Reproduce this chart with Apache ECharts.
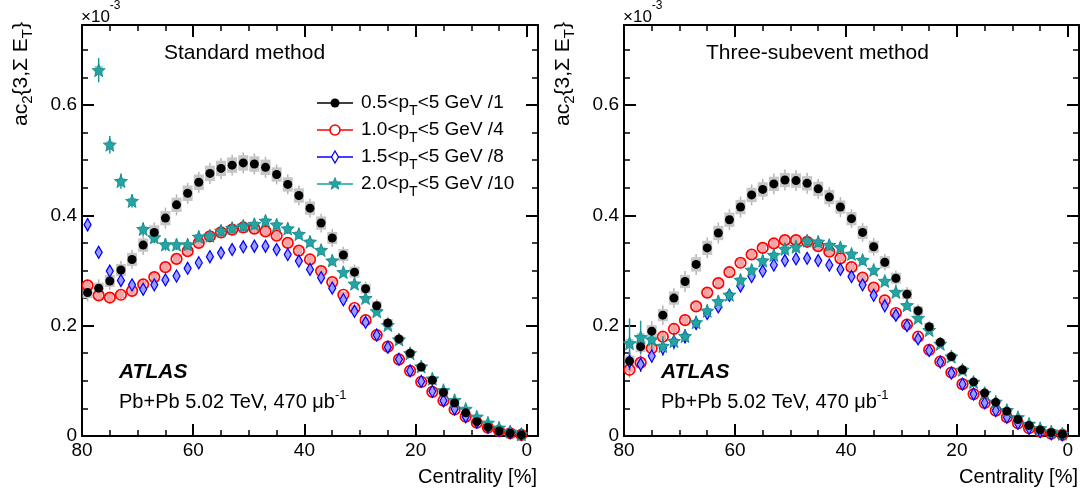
<!DOCTYPE html>
<html><head><meta charset="utf-8">
<script src="https://cdn.jsdelivr.net/npm/echarts@6/dist/echarts.min.js"></script>
<style>html,body{margin:0;padding:0;background:#fff}#c{width:1083px;height:495px}</style>
</head><body><div id="c"></div>
<script>
// ---------- data (values in units of 1e-3) ----------
const centrality = [79,77,75,73,71,69,67,65,63,61,59,57,55,53,51,49,47,45,43,41,39,37,35,33,31,29,27,25,23,21,19,17,15,13,11,9,7,5,3,1];
const xMajorTicks = [0,20,40,60,80];
const xMinorTicks = [5,10,15,25,30,35,45,50,55,65,70,75];
const yMajorTicks = [0,0.2,0.4,0.6];
const yMinorTicks = [0.05,0.1,0.15,0.25,0.3,0.35,0.45,0.5,0.55,0.65,0.7];
const panelTitles = ['Standard method','Three-subevent method'];
const legendRanges = ['0.5','1.0','1.5','2.0'];
const legendScales = ['1','4','8','10'];

// Standard method
const std_pt05 = [0.260,0.268,0.281,0.301,0.320,0.346,0.369,0.395,0.419,0.440,0.460,0.476,0.485,0.491,0.495,0.493,0.487,0.474,0.456,0.436,0.413,0.386,0.359,0.328,0.297,0.267,0.236,0.205,0.176,0.150,0.125,0.101,0.079,0.060,0.042,0.026,0.016,0.009,0.005,0.002];
const std_pt10 = [0.273,0.255,0.251,0.256,0.263,0.275,0.288,0.306,0.321,0.335,0.350,0.362,0.369,0.374,0.378,0.376,0.371,0.363,0.350,0.336,0.320,0.299,0.279,0.256,0.232,0.210,0.183,0.162,0.139,0.118,0.098,0.080,0.064,0.048,0.035,0.024,0.015,0.009,0.005,0.002];
const std_pt15 = [0.383,0.333,0.299,0.282,0.274,0.266,0.274,0.283,0.290,0.304,0.314,0.325,0.332,0.338,0.343,0.344,0.344,0.338,0.329,0.317,0.302,0.287,0.268,0.247,0.226,0.206,0.183,0.161,0.139,0.118,0.099,0.081,0.064,0.049,0.035,0.025,0.016,0.010,0.006,0.003];
const std_pt20 = [null,0.663,0.528,0.462,0.426,0.375,0.360,0.347,0.347,0.347,0.361,0.363,0.372,0.377,0.381,0.384,0.390,0.383,0.376,0.366,0.352,0.337,0.318,0.297,0.276,0.250,0.226,0.201,0.175,0.150,0.126,0.104,0.083,0.065,0.049,0.035,0.024,0.015,0.008,0.003];
// Three-subevent method
const sub_pt05 = [0.136,0.162,0.190,0.219,0.250,0.280,0.311,0.341,0.368,0.392,0.415,0.437,0.447,0.457,0.464,0.463,0.458,0.448,0.433,0.415,0.394,0.369,0.343,0.315,0.286,0.257,0.227,0.198,0.170,0.144,0.120,0.098,0.078,0.061,0.045,0.030,0.019,0.011,0.006,0.003];
const sub_pt10 = [0.120,0.133,0.159,0.180,0.194,0.210,0.235,0.260,0.277,0.297,0.314,0.329,0.341,0.349,0.355,0.355,0.352,0.344,0.334,0.322,0.306,0.287,0.269,0.246,0.223,0.202,0.180,0.156,0.135,0.115,0.094,0.076,0.060,0.046,0.034,0.023,0.014,0.008,0.004,0.002];
const sub_pt15 = [0.135,0.130,0.145,0.159,0.171,0.180,0.204,0.222,0.234,0.255,0.272,0.289,0.299,0.310,0.318,0.321,0.322,0.318,0.310,0.302,0.289,0.274,0.255,0.236,0.219,0.200,0.176,0.155,0.134,0.114,0.094,0.076,0.060,0.046,0.034,0.023,0.014,0.008,0.004,0.002];
const sub_pt20 = [0.168,0.179,0.175,0.163,0.172,0.181,0.206,0.227,0.244,0.256,0.283,0.301,0.318,0.328,0.339,0.343,0.354,0.352,0.346,0.342,0.330,0.319,0.301,0.281,0.261,0.237,0.214,0.192,0.167,0.144,0.120,0.098,0.078,0.062,0.047,0.034,0.022,0.014,0.008,0.004];

// statistical (bar) and systematic (box) half-widths
const std_pt05_stat = [0.016,0.016,0.016,0.016,0.017,0.018,0.018,0.019,0.019,0.019,0.019,0.019,0.019,0.019,0.019,0.019,0.019,0.018,0.018,0.018,0.017,0.017,0.016,0.015,0.014,0.013,0.012,0.011,0.010,0.009,0.008,0.007,0.006,0.005,0.004,0.004,0.003,0.002,0.002,0.001];
const std_pt05_syst = [0.010,0.010,0.011,0.011,0.012,0.012,0.013,0.013,0.013,0.014,0.014,0.014,0.014,0.014,0.014,0.014,0.014,0.013,0.013,0.013,0.012,0.012,0.011,0.011,0.010,0.009,0.008,0.007,0.006,0.006,0.005,0.004,0.004,0.003,0.003,0.002,0.002,0.001,0.001,0.001];
const std_pt10_stat = [0.010,0.009,0.008,0.008,0.008,0.008,0.008,0.008,0.008,0.008,0.008,0.008,0.008,0.008,0.008,0.008,0.008,0.008,0.008,0.007,0.007,0.007,0.007,0.006,0.006,0.006,0.005,0.005,0.005,0.004,0.004,0.004,0.003,0.003,0.003,0.002,0.002,0.002,0.001,0.001];
const std_pt10_syst = [0.006,0.007,0.007,0.006,0.006,0.006,0.007,0.007,0.007,0.007,0.007,0.007,0.007,0.007,0.007,0.007,0.007,0.007,0.007,0.007,0.006,0.006,0.006,0.005,0.005,0.005,0.004,0.004,0.004,0.003,0.003,0.003,0.002,0.002,0.002,0.002,0.001,0.001,0.001,0.001];
const std_pt15_stat = [0.012,0.010,0.009,0.008,0.008,0.008,0.008,0.008,0.008,0.008,0.008,0.008,0.008,0.008,0.008,0.008,0.008,0.008,0.008,0.008,0.008,0.007,0.007,0.007,0.006,0.006,0.006,0.005,0.005,0.005,0.004,0.004,0.004,0.003,0.003,0.003,0.002,0.002,0.002,0.001];
const std_pt15_syst = [0.004,0.004,0.004,0.004,0.004,0.004,0.004,0.004,0.004,0.004,0.004,0.004,0.004,0.004,0.004,0.004,0.004,0.004,0.004,0.004,0.004,0.004,0.004,0.003,0.003,0.003,0.003,0.003,0.003,0.002,0.002,0.002,0.002,0.002,0.002,0.001,0.001,0.001,0.001,0.001];
const std_pt20_stat = [0,0.022,0.016,0.014,0.012,0.012,0.011,0.011,0.010,0.010,0.010,0.010,0.010,0.010,0.010,0.010,0.010,0.010,0.010,0.009,0.009,0.009,0.009,0.008,0.008,0.008,0.007,0.007,0.006,0.006,0.005,0.005,0.004,0.004,0.003,0.003,0.003,0.002,0.002,0.001];
const std_pt20_syst = [0,0.008,0.006,0.005,0.005,0.005,0.005,0.005,0.005,0.005,0.005,0.005,0.005,0.005,0.005,0.005,0.005,0.005,0.005,0.005,0.005,0.005,0.004,0.004,0.004,0.004,0.004,0.003,0.003,0.003,0.003,0.002,0.002,0.002,0.002,0.001,0.001,0.001,0.001,0.001];
const sub_pt05_stat = [0.020,0.019,0.018,0.018,0.018,0.019,0.019,0.019,0.019,0.019,0.019,0.019,0.019,0.019,0.019,0.019,0.019,0.018,0.018,0.018,0.017,0.017,0.016,0.015,0.014,0.013,0.012,0.011,0.010,0.009,0.008,0.007,0.006,0.005,0.004,0.004,0.003,0.002,0.002,0.001];
const sub_pt05_syst = [0.010,0.010,0.011,0.011,0.012,0.012,0.013,0.013,0.013,0.013,0.013,0.013,0.013,0.013,0.013,0.013,0.013,0.013,0.013,0.012,0.012,0.012,0.011,0.011,0.010,0.009,0.008,0.007,0.006,0.006,0.005,0.004,0.004,0.003,0.003,0.002,0.002,0.001,0.001,0.001];
const sub_pt10_stat = [0.014,0.012,0.011,0.010,0.009,0.009,0.009,0.009,0.009,0.009,0.009,0.009,0.009,0.009,0.009,0.009,0.009,0.008,0.008,0.008,0.008,0.007,0.007,0.007,0.006,0.006,0.006,0.005,0.005,0.004,0.004,0.004,0.003,0.003,0.003,0.002,0.002,0.002,0.001,0.001];
const sub_pt10_syst = [0.005,0.006,0.006,0.006,0.006,0.006,0.007,0.007,0.007,0.007,0.007,0.007,0.007,0.007,0.007,0.007,0.007,0.007,0.007,0.006,0.006,0.006,0.006,0.005,0.005,0.005,0.004,0.004,0.004,0.003,0.003,0.003,0.002,0.002,0.002,0.002,0.001,0.001,0.001,0.001];
const sub_pt15_stat = [0.016,0.014,0.012,0.011,0.010,0.010,0.009,0.009,0.009,0.009,0.009,0.009,0.009,0.009,0.009,0.009,0.009,0.008,0.008,0.008,0.008,0.007,0.007,0.007,0.006,0.006,0.006,0.005,0.005,0.005,0.004,0.004,0.004,0.003,0.003,0.003,0.002,0.002,0.002,0.001];
const sub_pt15_syst = [0.004,0.004,0.004,0.004,0.004,0.004,0.004,0.004,0.004,0.004,0.004,0.004,0.004,0.004,0.004,0.004,0.004,0.004,0.004,0.004,0.004,0.004,0.004,0.003,0.003,0.003,0.003,0.003,0.003,0.002,0.002,0.002,0.002,0.002,0.002,0.001,0.001,0.001,0.001,0.001];
const sub_pt20_stat = [0.045,0.030,0.022,0.018,0.015,0.013,0.012,0.011,0.011,0.010,0.010,0.010,0.010,0.010,0.010,0.010,0.010,0.010,0.010,0.009,0.009,0.009,0.009,0.008,0.008,0.008,0.007,0.007,0.006,0.006,0.005,0.005,0.004,0.004,0.003,0.003,0.003,0.002,0.002,0.001];
const sub_pt20_syst = [0.008,0.007,0.006,0.005,0.005,0.005,0.005,0.005,0.005,0.005,0.005,0.005,0.005,0.005,0.005,0.005,0.005,0.005,0.005,0.005,0.005,0.005,0.004,0.004,0.004,0.004,0.004,0.003,0.003,0.003,0.003,0.002,0.002,0.002,0.002,0.001,0.001,0.001,0.001,0.001];

// ---------- styling ----------
const FONT = '"Liberation Sans", Arial, Helvetica, sans-serif';
const STAR_PTS = (function(){const p=[];for(let i=0;i<10;i++){const r=i%2?0.42:1;const a=-Math.PI/2+i*Math.PI/5;p.push([r*Math.cos(a),r*Math.sin(a)]);}return p;})();
const STAR_PATH = 'path://' + STAR_PTS.map((q,i)=>(i?'L':'M')+(q[0]*10).toFixed(2)+','+(q[1]*10).toFixed(2)).join(' ') + ' Z';
const seriesStyles = [
  {name:'pt05', symbol:'circle', size:9, fill:'#000000', stroke:'#000000', bw:0, box:'#c6c6c6', boxW:10, bar:'#b4b4b4', z:8, legendColor:'#000000'},
  {name:'pt10', symbol:'circle', size:10.5, fill:'rgba(255,255,255,0)', stroke:'#ff0000', bw:1.7, box:'#f4a4a4', boxW:7, bar:'#f07070', z:5, legendColor:'#ff0000'},
  {name:'pt15', symbol:'diamond', size:[7,12], fill:'#9c9cff', stroke:'#0000ff', bw:1.3, box:'#a8a8ff', boxW:6, bar:'#2a2aff', z:6, legendColor:'#0000ff'},
  {name:'pt20', symbol:STAR_PATH, size:13, fill:'#26a3a3', stroke:'#0f8888', bw:0.8, box:'#90cfcf', boxW:8, bar:'#1a9a9a', z:7, legendColor:'#14a0a0'}
];
const panels = [
  {vals:[std_pt05,std_pt10,std_pt15,std_pt20], stat:[std_pt05_stat,std_pt10_stat,std_pt15_stat,std_pt20_stat], syst:[std_pt05_syst,std_pt10_syst,std_pt15_syst,std_pt20_syst]},
  {vals:[sub_pt05,sub_pt10,sub_pt15,sub_pt20], stat:[sub_pt05_stat,sub_pt10_stat,sub_pt15_stat,sub_pt20_stat], syst:[sub_pt05_syst,sub_pt10_syst,sub_pt15_syst,sub_pt20_syst]}
];
const gridBoxes = [{left:82, top:25, width:456, height:411},{left:624, top:25, width:455, height:411}];

const grids = [], xAxes = [], yAxes = [], series = [];
const lineStyleK = {color:'#000', width:2};
gridBoxes.forEach((g, gi) => {
  grids.push(Object.assign({containLabel:false}, g));
  const xb = {gridIndex:gi, type:'value', min:-2, max:80, inverse:true, splitLine:{show:false}};
  const yb = {gridIndex:gi, type:'value', min:0, max:0.745, splitLine:{show:false}};
  const mainX = xAxes.length;
  xAxes.push(Object.assign({}, xb, {position:'bottom', axisLine:{show:true, onZero:false, lineStyle:lineStyleK},
    axisTick:{show:true, inside:true, length:12, lineStyle:{width:2,color:'#000'}, customValues:xMajorTicks},
    axisLabel:{show:true, customValues:xMajorTicks, color:'#000', fontSize:19, fontFamily:FONT, margin:5}}));
  xAxes.push(Object.assign({}, xb, {position:'bottom', axisLine:{show:false, onZero:false},
    axisTick:{show:true, inside:true, length:6, lineStyle:{width:1.5,color:'#000'}, customValues:xMinorTicks}, axisLabel:{show:false}}));
  xAxes.push(Object.assign({}, xb, {position:'top', axisLine:{show:true, onZero:false, lineStyle:lineStyleK},
    axisTick:{show:true, inside:true, length:12, lineStyle:{width:2,color:'#000'}, customValues:xMajorTicks}, axisLabel:{show:false}}));
  xAxes.push(Object.assign({}, xb, {position:'top', axisLine:{show:false, onZero:false},
    axisTick:{show:true, inside:true, length:6, lineStyle:{width:1.5,color:'#000'}, customValues:xMinorTicks}, axisLabel:{show:false}}));
  const mainY = yAxes.length;
  yAxes.push(Object.assign({}, yb, {position:'left', axisLine:{show:true, onZero:false, lineStyle:lineStyleK},
    axisTick:{show:true, inside:true, length:12, lineStyle:{width:2,color:'#000'}, customValues:yMajorTicks},
    axisLabel:{show:true, customValues:yMajorTicks, color:'#000', fontSize:19, fontFamily:FONT, margin:5,
      formatter:v => v === 0 ? '0' : v.toFixed(1)}}));
  yAxes.push(Object.assign({}, yb, {position:'left', axisLine:{show:false, onZero:false},
    axisTick:{show:true, inside:true, length:6, lineStyle:{width:1.5,color:'#000'}, customValues:yMinorTicks}, axisLabel:{show:false}}));
  yAxes.push(Object.assign({}, yb, {position:'right', axisLine:{show:true, onZero:false, lineStyle:lineStyleK},
    axisTick:{show:true, inside:true, length:12, lineStyle:{width:2,color:'#000'}, customValues:yMajorTicks}, axisLabel:{show:false}}));
  yAxes.push(Object.assign({}, yb, {position:'right', axisLine:{show:false, onZero:false},
    axisTick:{show:true, inside:true, length:6, lineStyle:{width:1.5,color:'#000'}, customValues:yMinorTicks}, axisLabel:{show:false}}));

  const P = panels[gi];
  // error boxes / bars
  seriesStyles.forEach((s, si) => {
    const data = [];
    centrality.forEach((c, i) => { const v = P.vals[si][i]; if (v != null) data.push([c, v, P.stat[si][i], P.syst[si][i]]); });
    series.push({type:'custom', xAxisIndex:mainX, yAxisIndex:mainY, z:1 + si*0.1, silent:true, clip:true, data,
      renderItem:(params, api) => {
        const x = api.value(0), y = api.value(1), st = api.value(2), sy = api.value(3);
        const p = api.coord([x, y]);
        const t = api.coord([x, y + st]), b = api.coord([x, y - st]);
        const st2 = api.coord([x, y + sy]), sb2 = api.coord([x, y - sy]);
        return {type:'group', children:[
          {type:'line', shape:{x1:p[0], y1:t[1], x2:p[0], y2:b[1]}, style:{stroke:s.bar, lineWidth:1.5}},
          {type:'rect', shape:{x:p[0]-s.boxW/2, y:st2[1], width:s.boxW, height:Math.max(0, sb2[1]-st2[1])}, style:{fill:s.box}}
        ]};
      }});
  });
  // markers
  seriesStyles.forEach((s, si) => {
    const data = [];
    centrality.forEach((c, i) => { const v = P.vals[si][i]; if (v != null) data.push([c, v]); });
    series.push({type:'scatter', name:s.name, xAxisIndex:mainX, yAxisIndex:mainY, z:s.z, silent:true, data,
      symbol:s.symbol, symbolSize:s.size,
      itemStyle:{color:s.fill, borderColor:s.stroke, borderWidth:s.bw, opacity:1}});
  });
});

// ---------- text / legend graphics ----------
const graphics = [];
const mctx = document.createElement('canvas').getContext('2d');
function textWidth(t, fs) { mctx.font = fs + 'px ' + FONT; return mctx.measureText(t).width; }
// a line of text made of pieces (for sub/superscripts); rot: reads bottom-to-top; alignEnd: (x0,y0) is the end
function pieceText(x0, y0, parts, rot, alignEnd) {
  const widths = parts.map(p => textWidth(p.t, p.fs));
  const total = widths.reduce((a, b) => a + b, 0);
  let u = alignEnd ? -total : 0;
  parts.forEach((p, i) => {
    const dy = p.dy || 0;
    const sx = rot ? x0 + dy : x0 + u;
    const sy = rot ? y0 - u : y0 + dy;
    graphics.push({type:'text', x:sx, y:sy, rotation: rot ? Math.PI/2 : 0, z:12,
      style:{text:p.t, fontSize:p.fs, fontFamily:FONT, fill:'#000', align:'left', verticalAlign:'middle'}});
    u += widths[i];
  });
}
gridBoxes.forEach((g, gi) => {
  const L = g.left, R = g.left + g.width;
  pieceText(L - 1, 17, [{t:'×10', fs:17}, {t:'-3', fs:12, dy:-11}], false, false);
  pieceText(L - 61, 22, [{t:'ac', fs:21}, {t:'2', fs:15, dy:7}, {t:'{3,Σ E', fs:21}, {t:'T', fs:15, dy:7}, {t:'}', fs:21}], true, true);
  graphics.push({type:'text', x:R - 1, y:477, style:{text:'Centrality [%]', align:'right', verticalAlign:'middle', fontSize:20, fontFamily:FONT, fill:'#000'}});
  graphics.push({type:'text', x:L + 82, y:53, style:{text:panelTitles[gi], align:'left', verticalAlign:'middle', fontSize:21, fontFamily:FONT, fill:'#000'}});
  graphics.push({type:'text', x:L + 37, y:372, style:{text:'ATLAS', align:'left', verticalAlign:'middle', fontSize:21, fontWeight:'bold', fontStyle:'italic', fontFamily:FONT, fill:'#000'}});
  pieceText(L + 37, 402, [{t:'Pb+Pb 5.02 TeV, 470 μb', fs:20}, {t:'-1', fs:13, dy:-7}], false, false);
});
// legend (left panel)
const legendRowY = [103, 130, 157, 184];
seriesStyles.forEach((s, i) => {
  const y = legendRowY[i], x1 = 317, x2 = 353, cx = 335;
  graphics.push({type:'line', shape:{x1, y1:y, x2, y2:y}, style:{stroke:s.legendColor, lineWidth:1.5}, z:10});
  let mk;
  if (i === 0) mk = {type:'circle', shape:{cx, cy:y, r:4.5}, style:{fill:'#000'}};
  else if (i === 1) mk = {type:'circle', shape:{cx, cy:y, r:5}, style:{fill:'#fff', stroke:'#ff0000', lineWidth:1.6}};
  else if (i === 2) mk = {type:'polygon', shape:{points:[[cx,y-6],[cx+3.5,y],[cx,y+6],[cx-3.5,y]]}, style:{fill:'#fff', stroke:'#0000ff', lineWidth:1.3}};
  else mk = {type:'polygon', shape:{points:STAR_PTS.map(q=>[cx+q[0]*6.5, y+q[1]*6.5])}, style:{fill:'#26a3a3', stroke:'#0f8888', lineWidth:0.8}};
  mk.z = 11;
  graphics.push(mk);
  pieceText(361, y, [{t:legendRanges[i] + '<p', fs:19}, {t:'T', fs:14, dy:8}, {t:'<5 GeV /' + legendScales[i], fs:19}], false, false);
});

const chart = echarts.init(document.getElementById('c'), null, {renderer:'canvas'});
chart.setOption({
  animation:false, backgroundColor:'#fff',
  grid:grids, xAxis:xAxes, yAxis:yAxes, series, graphic:graphics
});
</script></body></html>
